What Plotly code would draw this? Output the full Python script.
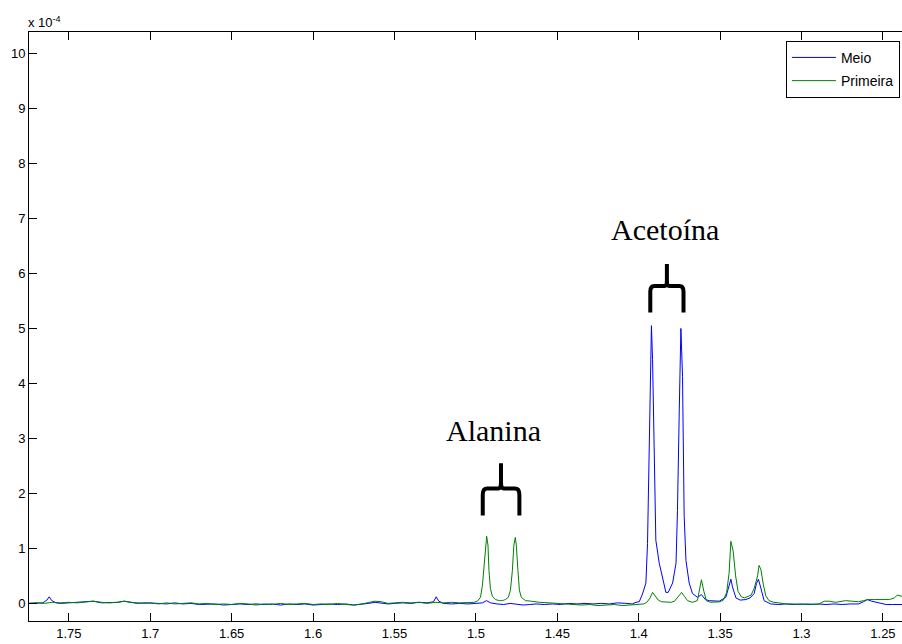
import plotly.graph_objects as go

# ---- data (chemical shift in ppm, intensity in units of 1e-4) ----
meio_ppm = [1.775, 1.770, 1.766, 1.7635, 1.7621, 1.7605, 1.758, 1.755, 1.750, 1.745, 1.740, 1.735, 1.730,
            1.725, 1.720, 1.716, 1.712, 1.708, 1.704, 1.700, 1.695, 1.690, 1.685, 1.680, 1.675, 1.670,
            1.665, 1.660, 1.655, 1.650, 1.645, 1.640, 1.635, 1.630, 1.625, 1.620, 1.615, 1.610, 1.605,
            1.600, 1.595, 1.590, 1.585, 1.580, 1.575, 1.570, 1.566, 1.562, 1.558, 1.554, 1.550, 1.545,
            1.540, 1.535, 1.530, 1.526, 1.5244, 1.5228, 1.520, 1.515, 1.510, 1.505, 1.500, 1.496, 1.4935,
            1.491, 1.487, 1.483, 1.479, 1.475, 1.471, 1.467, 1.463, 1.458, 1.453, 1.448, 1.443, 1.438,
            1.433, 1.428, 1.423, 1.418, 1.413, 1.408, 1.404, 1.4017, 1.3997, 1.3977, 1.3956, 1.3946,
            1.3936, 1.3925, 1.3922, 1.3915, 1.3905, 1.3895, 1.3874, 1.3854, 1.3833, 1.3819, 1.3792,
            1.3771, 1.3762, 1.3751, 1.3741, 1.3731, 1.3721, 1.3710, 1.3690, 1.3670, 1.3639, 1.3615,
            1.3591, 1.3567, 1.3506, 1.3465, 1.3445, 1.3434, 1.3424, 1.3403, 1.3377, 1.3342, 1.3316,
            1.3291, 1.3277, 1.3265, 1.3250, 1.3230, 1.3189, 1.314, 1.310, 1.305, 1.300, 1.295, 1.290,
            1.285, 1.280, 1.275, 1.270, 1.265, 1.262, 1.2596, 1.257, 1.2555, 1.252, 1.248, 1.244, 1.2383]
meio_val = [0.00, 0.01, 0.01, 0.06, 0.12, 0.05, 0.01, 0.00, 0.01, 0.01, 0.03, 0.04, 0.01,
            0.01, 0.02, 0.04, 0.02, 0.00, 0.01, 0.00, 0.00, -0.01, 0.01, -0.01, 0.00, -0.02,
            -0.01, -0.01, -0.03, -0.02, -0.01, -0.02, -0.01, -0.02, -0.01, -0.03, -0.01, -0.02, -0.01,
            -0.03, -0.02, -0.01, -0.02, -0.01, -0.03, -0.02, 0.00, 0.02, 0.01, -0.01, 0.00, 0.01,
            0.00, 0.02, 0.01, 0.03, 0.12, 0.04, 0.00, -0.01, 0.00, -0.01, 0.00, 0.01, 0.05,
            0.01, -0.01, -0.02, 0.00, -0.02, -0.03, -0.02, -0.01, -0.02, -0.01, -0.02, 0.00, -0.01,
            0.00, -0.01, 0.00, -0.01, 0.01, 0.00, -0.01, 0.02, 0.03, 0.17, 0.37, 1.09,
            2.91, 4.73, 5.05, 4.43, 2.31, 1.15, 0.73, 0.48, 0.20, 0.20, 0.37,
            0.73, 1.69, 3.52, 5.00, 4.13, 1.60, 0.78, 0.37, 0.18, 0.11, 0.16,
            0.07, 0.05, 0.04, 0.11, 0.33, 0.44, 0.30, 0.10, 0.06, 0.07, 0.10,
            0.18, 0.36, 0.44, 0.28, 0.05, -0.01, -0.02, -0.01, -0.02, -0.01, -0.02, -0.01,
            -0.02, -0.01, -0.02, -0.01, -0.01, 0.03, 0.07, 0.04, 0.03, 0.01, -0.02, -0.02, -0.02]

primeira_ppm = [1.775, 1.770, 1.765, 1.760, 1.755, 1.750, 1.745, 1.740, 1.735, 1.730, 1.725, 1.720,
                1.716, 1.712, 1.708, 1.704, 1.700, 1.695, 1.690, 1.685, 1.680, 1.675, 1.670, 1.665,
                1.660, 1.655, 1.650, 1.645, 1.640, 1.635, 1.630, 1.625, 1.620, 1.615, 1.610, 1.605,
                1.600, 1.595, 1.590, 1.585, 1.580, 1.575, 1.570, 1.566, 1.562, 1.558, 1.554, 1.550,
                1.545, 1.540, 1.535, 1.530, 1.525, 1.520, 1.515, 1.510, 1.505, 1.5010, 1.4991, 1.4972,
                1.4960, 1.4948, 1.4939, 1.4934, 1.4926, 1.4920, 1.4911, 1.4899, 1.4880, 1.4856, 1.4837,
                1.4819, 1.4801, 1.4788, 1.4776, 1.4767, 1.4758, 1.4752, 1.4742, 1.4733, 1.4721, 1.4696,
                1.4660, 1.4610, 1.455, 1.450, 1.445, 1.440, 1.435, 1.430, 1.425, 1.420, 1.415, 1.410,
                1.405, 1.400, 1.397, 1.395, 1.393, 1.3915, 1.390, 1.388, 1.386, 1.383, 1.380, 1.378,
                1.376, 1.3737, 1.372, 1.370, 1.367, 1.364, 1.3630, 1.3615, 1.3600, 1.3585, 1.356, 1.353,
                1.350, 1.348, 1.346, 1.3445, 1.3434, 1.3420, 1.3405, 1.339, 1.337, 1.335, 1.333, 1.331,
                1.329, 1.327, 1.3261, 1.3250, 1.3235, 1.322, 1.320, 1.317, 1.314, 1.310, 1.305, 1.300,
                1.296, 1.290, 1.286, 1.283, 1.279, 1.277, 1.273, 1.269, 1.265, 1.262, 1.259, 1.255,
                1.252, 1.248, 1.246, 1.243, 1.2412, 1.2383]
primeira_val = [0.00, 0.01, 0.00, 0.02, 0.01, 0.02, 0.01, 0.03, 0.04, 0.02, 0.01, 0.02,
                0.04, 0.02, 0.01, 0.00, 0.01, -0.01, 0.01, -0.01, 0.00, 0.01, -0.01, 0.00,
                -0.02, -0.01, -0.02, 0.00, -0.01, -0.03, -0.01, -0.02, 0.00, -0.02, -0.01, 0.00,
                -0.02, -0.01, -0.02, 0.00, -0.02, -0.03, -0.01, 0.02, 0.04, 0.03, 0.00, 0.01,
                0.02, 0.01, 0.02, 0.00, 0.02, 0.01, 0.02, 0.01, 0.02, 0.02, 0.04, 0.11,
                0.33, 0.78, 1.15, 1.22, 1.06, 0.60, 0.27, 0.13, 0.07, 0.05, 0.05,
                0.07, 0.11, 0.24, 0.60, 1.06, 1.20, 1.06, 0.60, 0.24, 0.11, 0.05,
                0.04, 0.02, 0.01, 0.00, -0.01, -0.02, -0.03, -0.02, -0.04, -0.03, -0.02, -0.04,
                -0.03, -0.02, -0.01, 0.02, 0.10, 0.20, 0.14, 0.06, 0.03, 0.03, 0.02, 0.04,
                0.12, 0.20, 0.13, 0.05, 0.02, 0.05, 0.20, 0.43, 0.22, 0.05, 0.02, 0.02,
                0.03, 0.06, 0.20, 0.55, 1.13, 0.95, 0.50, 0.22, 0.12, 0.10, 0.12, 0.15,
                0.28, 0.50, 0.69, 0.62, 0.35, 0.14, 0.05, 0.02, 0.01, -0.01, -0.01, -0.02,
                -0.01, -0.02, 0.04, 0.04, 0.02, 0.03, 0.05, 0.04, 0.03, 0.05, 0.07, 0.07,
                0.07, 0.06, 0.07, 0.10, 0.15, 0.13]

x_ticks = [1.75, 1.7, 1.65, 1.6, 1.55, 1.5, 1.45, 1.4, 1.35, 1.3, 1.25]
x_tick_labels = ["1.75", "1.7", "1.65", "1.6", "1.55", "1.5", "1.45", "1.4", "1.35", "1.3", "1.25"]
y_ticks = list(range(0, 11))

# annotation labels: (text, ppm, intensity)
labels = [("Alanina", 1.4890, 3.15), ("Acetoína", 1.3840, 6.80)]
# braces: (left ppm, centre ppm, right ppm, bottom, shoulder, top)
braces = [(1.4958, 1.4846, 1.4733, 1.60, 2.09, 2.55),
          (1.3929, 1.3827, 1.3725, 5.29, 5.77, 6.17)]

fig = go.Figure()
fig.add_trace(go.Scatter(x=meio_ppm, y=meio_val, mode="lines", name="Meio", legendgroup="a",
                         line=dict(color="#0000FF", width=1)))
fig.add_trace(go.Scatter(x=primeira_ppm, y=primeira_val, mode="lines", name="Primeira", legendgroup="b",
                         line=dict(color="#008000", width=1)))

for xl, xc, xr, yb, ys, yt in braces:
    dx = (xl - xr) * 0.12
    dy = (yt - ys) * 0.25
    path = (f"M {xl},{yb} L {xl},{ys - dy} Q {xl},{ys} {xl - dx},{ys} "
            f"L {xc + dx * 0.6},{ys} Q {xc},{ys} {xc},{ys + dy} L {xc},{yt} "
            f"M {xc},{ys + dy} Q {xc},{ys} {xc - dx * 0.6},{ys} "
            f"L {xr + dx},{ys} Q {xr},{ys} {xr},{ys - dy} L {xr},{yb}")
    fig.add_shape(type="path", path=path, xref="x", yref="y",
                  line=dict(color="black", width=4))

for text, px, py in labels:
    fig.add_annotation(x=px, y=py, text=text, showarrow=False, xref="x", yref="y",
                       xanchor="center", yanchor="middle",
                       font=dict(family="Liberation Serif, Times New Roman, serif", size=30, color="black"))

fig.add_annotation(x=0, y=1, xref="paper", yref="paper", xanchor="left", yanchor="bottom",
                   yshift=0, xshift=-3, text="x 10<sup>-4</sup>", showarrow=False,
                   font=dict(family="Liberation Sans, Arial, sans-serif", size=13, color="black"))

fig.update_layout(
    width=902, height=644,
    margin=dict(l=29, r=0, t=32, b=23),
    paper_bgcolor="white", plot_bgcolor="white",
    font=dict(family="Liberation Sans, Arial, sans-serif", size=13, color="black"),
    showlegend=True,
    legend=dict(x=0.867, y=0.985, xanchor="left", yanchor="top",
                bgcolor="white", bordercolor="black", borderwidth=1, itemwidth=44,
                font=dict(size=14, color="black"), traceorder="grouped", tracegroupgap=2),
    xaxis=dict(range=[1.7745, 1.2383], tickvals=x_ticks, ticktext=x_tick_labels,
               ticks="inside", ticklen=8, tickcolor="black", showgrid=False, zeroline=False,
               showline=True, linecolor="black", linewidth=1, mirror="ticks",
               tickfont=dict(size=13)),
    yaxis=dict(range=[-0.32, 10.39], tickvals=y_ticks, ticks="inside", ticklen=8,
               tickcolor="black", showgrid=False, zeroline=False,
               showline=True, linecolor="black", linewidth=1, tickfont=dict(size=13)),
)

fig.write_html("out.html")
